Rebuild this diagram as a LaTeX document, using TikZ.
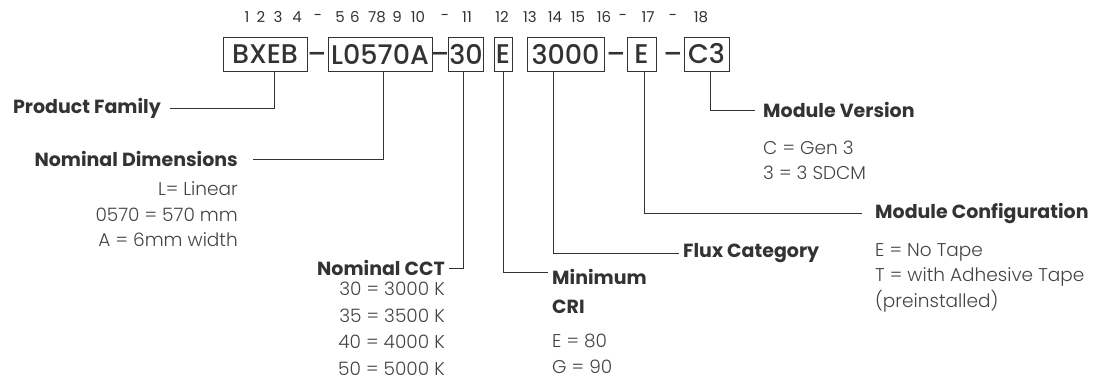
\documentclass[tikz,border=0pt]{standalone}
\usepackage{fontspec}
\setmainfont{Poppins}
\newfontfamily\lightfont{Poppins Light}
\newfontfamily\midfont{Poppins Medium}
\usetikzlibrary{positioning}
\definecolor{ink}{HTML}{333333}
\definecolor{soft}{HTML}{444444}
\tikzset{
  codebox/.style={draw=ink, text=ink, line width=0.9pt, minimum height=34pt, inner sep=1pt, font=\midfont\fontsize{27}{28}\selectfont},
  sep/.style={text=ink, inner sep=0pt, font=\midfont\fontsize{27}{28}\selectfont},
  digit/.style={text=ink, inner sep=0pt, font=\fontsize{15}{16}\selectfont},
  head/.style={text=ink, inner sep=4pt, font=\bfseries\fontsize{19}{22}\selectfont},
  desc/.style={text=soft, inner sep=4pt, font=\lightfont\fontsize{18.5}{25.5}\selectfont},
  lead/.style={draw=ink, line width=0.8pt}
}
\begin{document}
\begin{tikzpicture}[x=1pt, y=-1pt]
\useasboundingbox (0,0) rectangle (1102,386);
% position numbers
\foreach \x/\t [count=\i] in {247/1, 261/2, 278/3, 297/4, 318/-, 340/5, 355/6, 377/78, 397/9, 418/10, 445/-, 467/11, 502/12, 530/13, 555/14, 578/15, 604/16, 623/-, 648/17, 673/-, 701/18}
  \node[digit] (pos\i) at (\x,17) {\t};
% code boxes
\node[codebox, minimum width=84pt] (fam) at (265,54) {BXEB};
\node[codebox, minimum width=104pt] (dim) at (380,54) {L0570A};
\node[codebox, minimum width=26pt] (cct) at (466,54) {30};
\node[codebox, minimum width=18pt] (cri) at (503,54) {E};
\node[codebox, minimum width=77pt] (flux) at (565.5,54) {3000};
\node[codebox, minimum width=29pt] (conf) at (641.5,54) {E};
\node[codebox, minimum width=45pt] (ver) at (706.5,54) {C3};
\node[sep] (d1) at (317,58) {\textendash};
\node[sep] (d2) at (440,58) {\textendash};
\node[sep] (d3) at (616,58) {\textendash};
\node[sep] (d4) at (673,58) {\textendash};
% labels
\node[head, anchor=east] (famlbl) at (165,108) {Product Family};
\node[head, anchor=east] (dimlbl) at (242,159) {Nominal Dimensions};
\node[desc, align=right, below left=6.5pt and 0pt of dimlbl.south east] (dimtxt) {L= Linear\\0570 = 570 mm\\A = 6mm width};
\node[head, anchor=east] (cctlbl) at (449,268) {Nominal CCT};
\node[desc, align=right, font=\lightfont\fontsize{18.5}{26.5}\selectfont, below left=-2pt and 0pt of cctlbl.south east] (ccttxt) {30 = 3000 K\\35 = 3500 K\\40 = 4000 K\\50 = 5000 K};
\node[head, anchor=west] (crilbl) at (548,277) {Minimum};
\node[head, below right=6.5pt and 0pt of crilbl.south west] (crilbl2) {CRI};
\node[desc, align=left, below right=12.5pt and 0pt of crilbl2.south west] (critxt) {E = 80\\G = 90};
\node[head, anchor=west] (fluxlbl) at (679,253) {Flux Category};
\node[head, anchor=west] (conflbl) at (871,213) {Module Configuration};
\node[desc, align=left, below right=11.5pt and 0pt of conflbl.south west] (conftxt) {E = No Tape\\T = with Adhesive Tape\\(preinstalled)};
\node[head, anchor=west] (verlbl) at (759,110) {Module Version};
\node[desc, align=left, below right=14.5pt and 0pt of verlbl.south west] (vertxt) {C = Gen 3\\3 = 3 SDCM};
% leaders
\draw[lead] ([xshift=9pt]fam.south) |- ([xshift=5pt]famlbl.east);
\draw[lead] ([xshift=3pt]dim.south) |- ([xshift=11pt]dimlbl.east);
\draw[lead] ([xshift=-3pt]cct.south) |- (cctlbl.east);
\draw[lead] (cri.south) |- ([yshift=5pt]crilbl.west);
\draw[lead] ([xshift=-12.5pt]flux.south) |- (fluxlbl.west);
\draw[lead] ([xshift=2.5pt]conf.south) |- ([xshift=-9pt]conflbl.west);
\draw[lead] ([xshift=3.5pt]ver.south) |- ([xshift=-4pt]verlbl.west);
\end{tikzpicture}
\end{document}
